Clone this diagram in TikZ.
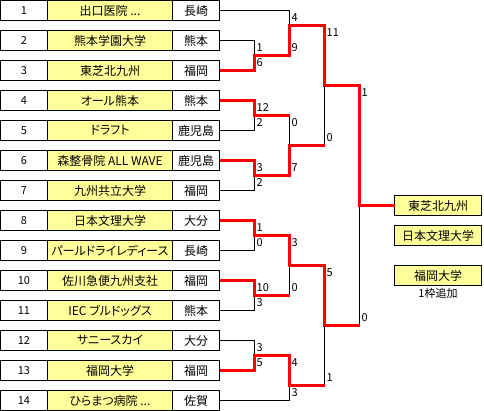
\documentclass[tikz,border=0pt]{standalone}
\usepackage{fontspec}
\setmainfont{Noto Sans CJK JP}[RawFeature=+palt]
\usetikzlibrary{positioning}
\definecolor{cellyellow}{RGB}{255,255,153}

\begin{document}
\begin{tikzpicture}[x=1pt, y=-1pt,
  cell/.style={draw, line width=1pt, inner sep=0pt, outer sep=0pt,
    minimum height=20pt, font=\fontsize{12}{14}\selectfont},
  numbox/.style={cell, minimum width=47pt, font=\fontsize{11}{13}\selectfont},
  namebox/.style={cell, fill=cellyellow, minimum width=125pt},
  prefbox/.style={cell, minimum width=47pt},
  winbox/.style={cell, fill=cellyellow, minimum width=87pt},
  score/.style={inner sep=0pt, anchor=west, font=\fontsize{11}{13}\selectfont},
  wire/.style={line width=1pt},
  win/.style={draw=red, line width=3pt}]
  \useasboundingbox (-0.5,-0.5) rectangle (483.5,410.5);
  % entry list
  \foreach \i/\t/\p in {1/{出口医院 ...}/長崎, 2/熊本学園大学/熊本,
      3/東芝北九州/福岡, 4/オール熊本/熊本, 5/ドラフト/鹿児島,
      6/森整骨院 ALL WAVE/鹿児島, 7/九州共立大学/福岡, 8/日本文理大学/大分,
      9/パールドライレディース/長崎, 10/佐川急便九州支社/福岡,
      11/IEC ブルドッグス/熊本, 12/サニースカイ/大分, 13/福岡大学/福岡,
      14/{ひらまつ病院 ...}/佐賀} {
    \node[numbox] (n\i) at (23.5,30*\i-20) {\i};
    \node[namebox, right=0pt of n\i] (t\i) {\t};
    \node[prefbox, right=0pt of t\i] (p\i) {\p};
  }
  % bracket joints
  \coordinate (m1) at (254,55);
  \coordinate (m2) at (254,115);
  \coordinate (m3) at (254,175);
  \coordinate (m4) at (254,235);
  \coordinate (m5) at (254,295);
  \coordinate (m6) at (254,355);
  \coordinate (m7) at (289,25);
  \coordinate (m8) at (289,145);
  \coordinate (m9) at (289,265);
  \coordinate (m10) at (289,385);
  \coordinate (m11) at (324,85);
  \coordinate (m12) at (324,325);
  \coordinate (m13) at (359,205);
  % results
  \node[winbox] (w1) at (437.5,205) {東芝北九州};
  \node[winbox, below=10pt of w1] (w2) {日本文理大学};
  \node[winbox, below=20pt of w2] (w3) {福岡大学};
  \node[below=0pt of w3, inner sep=0pt, minimum height=15pt,
    font=\fontsize{11}{13}\selectfont] (note) {1枠追加};
  % bracket
  \foreach \u/\m/\v in {p2.east/m1/p3.east, p4.east/m2/p5.east,
      p6.east/m3/p7.east, p8.east/m4/p9.east, p10.east/m5/p11.east,
      p12.east/m6/p13.east, p1.east/m7/m1, m2/m8/m3, m4/m9/m5,
      m6/m10/p14.east, m7/m11/m8, m9/m12/m10, m11/m13/m12}
    \draw[wire] (\u) -| (\m) |- (\v);
  % winners
  \draw[win] (p3.east) -| (m1) -| (m7) -| (m11) -| (m13) -- (w1);
  \draw[win] (p4.east) -| (m2) -- (m2 -| m8);
  \draw[win] (p6.east) -| (m3) -| (m8) -- (m8 -| m11);
  \draw[win] (p8.east) -| (m4) -| (m9) -| (m12) -- (m12 -| m13);
  \draw[win] (p10.east) -| (m5) -- (m5 -| m9);
  \draw[win] (p13.east) -| (m6) -| (m10) -- (m10 -| m12);
  % scores
  \foreach \x/\y/\s [count=\k] in {256/47.5/1, 256/62.5/6, 256/107.5/12,
      256/122.5/2, 256/167.5/3, 256/182.5/2, 256/227.5/1, 256/242.5/0,
      256/287.5/10, 256/302.5/3, 256/347.5/3, 256/362.5/5,
      291/17.5/4, 291/47.5/9, 291/122.5/0, 291/167.5/7, 291/242.5/3,
      291/287.5/0, 291/362.5/4, 291/392.5/3, 326/32.5/11, 326/137.5/0,
      326/272.5/5, 326/377.5/1, 361/92.5/1, 361/317.5/0}
    \node[score] (s\k) at (\x,\y) {\s};
\end{tikzpicture}
\end{document}
